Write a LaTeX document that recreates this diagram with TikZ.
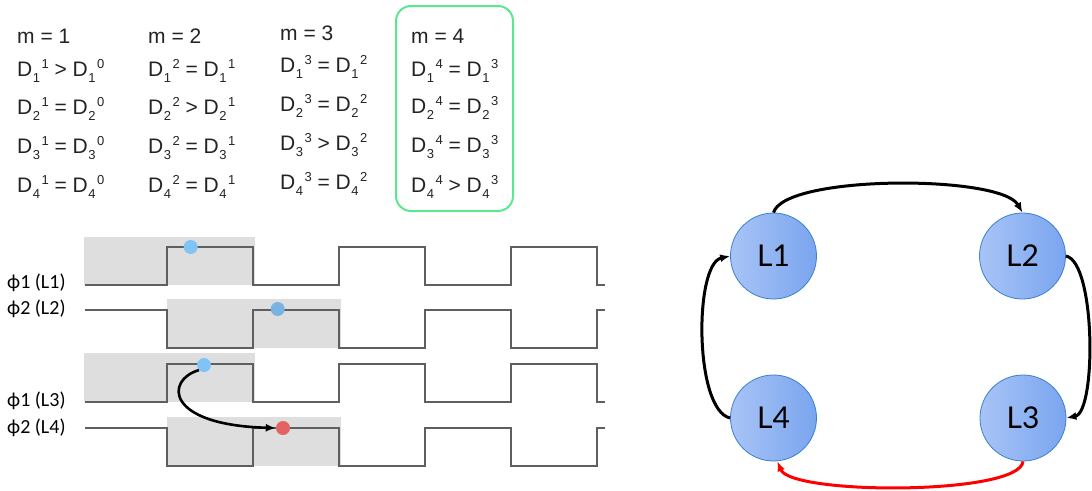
\documentclass[tikz,border=0pt]{standalone}
\usepackage{fontspec}
\setmainfont{Liberation Sans}
\newfontfamily\labfont{Carlito}
\newfontfamily\nodefont{Lato}
\usetikzlibrary{arrows.meta}

\definecolor{shadegray}{RGB}{222,222,222}
\definecolor{wavegray}{RGB}{95,95,95}
\definecolor{boxgreen}{RGB}{92,232,142}
\definecolor{dotblue}{RGB}{128,196,246}
\definecolor{dotblueB}{RGB}{122,178,226}
\definecolor{dotred}{RGB}{228,98,98}
\definecolor{nodeL}{RGB}{168,196,246}
\definecolor{nodeR}{RGB}{122,165,239}
\definecolor{nodeedge}{RGB}{58,128,208}
\definecolor{textgray}{RGB}{35,35,35}

% D with lower index and upper index set one after the other
\newcommand\Dq[2]{D\kern0.5pt\raisebox{-6.5pt}{\fontsize{13}{13}\selectfont #1}\kern1.5pt\raisebox{7.5pt}{\fontsize{13}{13}\selectfont #2}}

\tikzset{
  eq/.style={anchor=base west, inner sep=0pt, text=textgray, font=\fontsize{21}{25}\selectfont},
  siglabel/.style={anchor=west, inner sep=0pt, font=\labfont\fontsize{20}{22}\selectfont},
  wave/.style={draw=wavegray, line width=2pt, line join=miter},
  shadebox/.style={fill=shadegray, draw=none},
  dotnode/.style={circle, inner sep=0pt, minimum size=14pt, draw=none},
  lnode/.style={circle, inner sep=0pt, minimum size=86pt, draw=nodeedge, line width=0.8pt,
                left color=nodeL, right color=nodeR, font=\nodefont\fontsize{30}{32}\selectfont},
  flow/.style={line width=3pt, -{Latex[length=10pt,width=8pt]}},
}

\begin{document}
\begin{tikzpicture}[x=1pt, y=-1pt]
\useasboundingbox (0,0) rectangle (1092,490);

% ---- phase conditions per step m ----
\draw[boxgreen, line width=2pt, rounded corners=15pt] (396,6) rectangle (513,211);

\node[eq] (m1)  at (17,43)   {m = 1};
\node[eq] (a11) at (17,76)   {\Dq{1}{1} > \Dq{1}{0}};
\node[eq] (a12) at (17,114)  {\Dq{2}{1} = \Dq{2}{0}};
\node[eq] (a13) at (17,153)  {\Dq{3}{1} = \Dq{3}{0}};
\node[eq] (a14) at (17,192)  {\Dq{4}{1} = \Dq{4}{0}};

\node[eq] (m2)  at (148,43)  {m = 2};
\node[eq] (a21) at (148,76)  {\Dq{1}{2} = \Dq{1}{1}};
\node[eq] (a22) at (148,114) {\Dq{2}{2} > \Dq{2}{1}};
\node[eq] (a23) at (148,153) {\Dq{3}{2} = \Dq{3}{1}};
\node[eq] (a24) at (148,192) {\Dq{4}{2} = \Dq{4}{1}};

\node[eq] (m3)  at (280,40)  {m = 3};
\node[eq] (a31) at (280,72)  {\Dq{1}{3} = \Dq{1}{2}};
\node[eq] (a32) at (280,111) {\Dq{2}{3} = \Dq{2}{2}};
\node[eq] (a33) at (280,150) {\Dq{3}{3} > \Dq{3}{2}};
\node[eq] (a34) at (280,189) {\Dq{4}{3} = \Dq{4}{2}};

\node[eq] (m4)  at (411,43)  {m = 4};
\node[eq] (a41) at (411,76)  {\Dq{1}{4} = \Dq{1}{3}};
\node[eq] (a42) at (411,113) {\Dq{2}{4} = \Dq{2}{3}};
\node[eq] (a43) at (411,152) {\Dq{3}{4} = \Dq{3}{3}};
\node[eq] (a44) at (411,192) {\Dq{4}{4} > \Dq{4}{3}};

% ---- clock phases ----
\fill[shadebox] (84,236.7) rectangle (255,285);
\fill[shadebox] (167,299) rectangle (340.7,348);
\fill[shadebox] (84,353.3) rectangle (255,402);
\fill[shadebox] (167,417.3) rectangle (340.7,465.7);

\draw[wave] (85,285) -- (166.7,285) -- (166.7,246.7) -- (252.8,246.7) -- (252.8,285)
  -- (338.9,285) -- (338.9,246.7) -- (425,246.7) -- (425,285) -- (511.1,285)
  -- (511.1,246.7) -- (597.2,246.7) -- (597.2,285) -- (605,285);
\draw[wave] (85,310) -- (166.7,310) -- (166.7,347.7) -- (252.8,347.7) -- (252.8,310)
  -- (338.9,310) -- (338.9,347.7) -- (425,347.7) -- (425,310) -- (511.1,310)
  -- (511.1,347.7) -- (597.2,347.7) -- (597.2,310) -- (605,310);
\draw[wave] (85,402) -- (166.7,402) -- (166.7,364) -- (252.8,364) -- (252.8,402)
  -- (338.9,402) -- (338.9,364) -- (425,364) -- (425,402) -- (511.1,402)
  -- (511.1,364) -- (597.2,364) -- (597.2,402) -- (605,402);
\draw[wave] (85,427.7) -- (166.7,427.7) -- (166.7,465.7) -- (252.8,465.7) -- (252.8,427.7)
  -- (338.9,427.7) -- (338.9,465.7) -- (425,465.7) -- (425,427.7) -- (511.1,427.7)
  -- (511.1,465.7) -- (597.2,465.7) -- (597.2,427.7) -- (605,427.7);

\node[siglabel] (s1) at (7,283) {ϕ1 (L1)};
\node[siglabel] (s2) at (7,309) {ϕ2 (L2)};
\node[siglabel] (s3) at (7,401) {ϕ1 (L3)};
\node[siglabel] (s4) at (7,428) {ϕ2 (L4)};

\node[dotnode, fill=dotblue]  (b1) at (190.7,247) {};
\node[dotnode, fill=dotblueB] (b2) at (277.7,309) {};
\node[dotnode, fill=dotblue]  (b3) at (204,365) {};
\node[dotnode, fill=dotred]   (r4) at (283,428) {};

\draw[flow, line width=2.6pt] (b3.-135) .. controls (165,380) and (165,425) .. (r4.west);

% ---- ring of four stages ----
\node[lnode] (L1) at (773.5,256) {L1};
\node[lnode] (L2) at (1022.5,256) {L2};
\node[lnode] (L3) at (1023,418) {L3};
\node[lnode] (L4) at (773.5,418) {L4};

\draw[flow] (L1.north) .. controls +(11,-38) and +(-22,-38) .. (L2.north);
\draw[flow] (L2.east) .. controls +(30,6) and +(30,-6) .. (L3.east);
\draw[flow, red] (L3.south) .. controls +(-3,34) and +(14,34) .. (L4.-85);
\draw[flow] (L4.west) .. controls +(-36,-8) and +(-36,8) .. (L1.west);
\end{tikzpicture}
\end{document}
